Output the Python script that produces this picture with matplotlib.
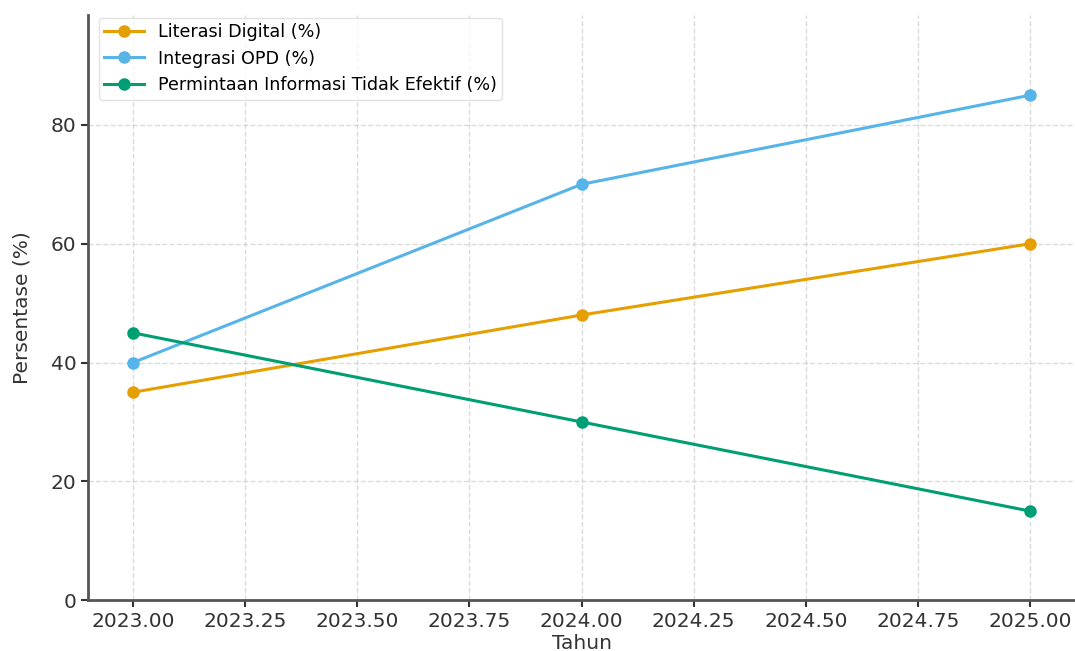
import matplotlib.pyplot as plt

# Data
tahun = [2023, 2024, 2025]
literasi_digital = [35, 48, 60]
integrasi_opd = [40, 70, 85]
permintaan_tidak_efektif = [45, 30, 15]

fig = plt.figure(figsize=(10.75, 6.51), dpi=100)
ax = fig.add_axes([0.082, 0.078, 0.918, 0.899])

ax.plot(tahun, literasi_digital, marker='o', color='#E69F00', linewidth=2.2,
        markersize=8, label='Literasi Digital (%)')
ax.plot(tahun, integrasi_opd, marker='o', color='#56B4E9', linewidth=2.2,
        markersize=8, label='Integrasi OPD (%)')
ax.plot(tahun, permintaan_tidak_efektif, marker='o', color='#009E73', linewidth=2.2,
        markersize=8, label='Permintaan Informasi Tidak Efektif (%)')

ax.set_xlim(2022.9, 2025.1)
ax.set_ylim(0, 98.5)
ax.set_xticks([2023.0, 2023.25, 2023.5, 2023.75, 2024.0, 2024.25, 2024.5, 2024.75, 2025.0])
ax.set_xticklabels([f'{t:.2f}' for t in ax.get_xticks()])
ax.set_yticks([0, 20, 40, 60, 80])

ax.set_xlabel('Tahun', fontsize=14.5, color='#333333', labelpad=2)
ax.set_ylabel('Persentase (%)', fontsize=14.5, color='#333333', labelpad=14)
ax.tick_params(labelsize=14.5, colors='#333333', width=1.5, length=5)

ax.grid(True, linestyle='--', color='#cccccc', alpha=0.7, linewidth=1)
for side in ['top', 'right']:
    ax.spines[side].set_visible(False)
for side in ['left', 'bottom']:
    ax.spines[side].set_color('#555555')
    ax.spines[side].set_linewidth(2)

ax.legend(loc='upper left', fontsize=12.6, frameon=True, edgecolor='#dddddd',
          borderaxespad=0.15, handlelength=2.3, labelspacing=0.5,
          borderpad=0.3, bbox_to_anchor=(0.008, 1.0))

plt.savefig('out.png', dpi=100)
